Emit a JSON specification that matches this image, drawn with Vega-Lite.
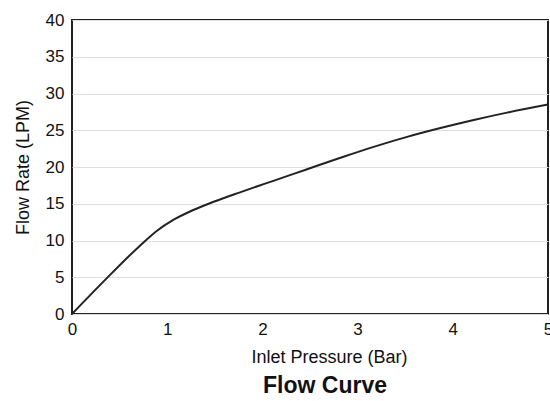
{
  "$schema": "https://vega.github.io/schema/vega-lite/v6.json",
  "autosize": "none",
  "width": 476,
  "height": 294,
  "padding": {"left": 72, "top": 20, "right": 2, "bottom": 87},
  "background": "white",
  "title": {
    "text": "Flow Curve",
    "orient": "bottom",
    "anchor": "middle",
    "font": "Liberation Sans",
    "fontSize": 23,
    "fontWeight": "bold",
    "color": "#111",
    "offset": 9,
    "dx": 15
  },
  "config": {
    "view": {"stroke": "#231f20", "strokeWidth": 2},
    "font": "Liberation Sans"
  },
  "data": {
    "values": [
      {"p": 0, "f": 0},
      {"p": 0.33, "f": 4.4},
      {"p": 0.714, "f": 9.3},
      {"p": 0.89, "f": 11.3},
      {"p": 1.064, "f": 12.8},
      {"p": 1.24, "f": 13.95},
      {"p": 1.415, "f": 14.9},
      {"p": 1.59, "f": 15.75},
      {"p": 1.765, "f": 16.55},
      {"p": 1.94, "f": 17.35},
      {"p": 2.1, "f": 18.05},
      {"p": 2.47, "f": 19.7},
      {"p": 2.82, "f": 21.25},
      {"p": 3.16, "f": 22.7},
      {"p": 3.52, "f": 24.1},
      {"p": 3.87, "f": 25.3},
      {"p": 4.22, "f": 26.4},
      {"p": 4.57, "f": 27.4},
      {"p": 5.0, "f": 28.5}
    ]
  },
  "mark": {"type": "line", "color": "#222", "strokeWidth": 2, "interpolate": "monotone"},
  "encoding": {
    "x": {
      "field": "p",
      "type": "quantitative",
      "scale": {"domain": [0, 5], "nice": false},
      "axis": {
        "title": "Inlet Pressure (Bar)",
        "values": [0, 1, 2, 3, 4, 5],
        "grid": false,
        "ticks": false,
        "domain": false,
        "labelPadding": 7,
        "labelFontSize": 17,
        "labelColor": "#111",
        "labelFlush": false,
        "labelOverlap": false,
        "titleFontSize": 18,
        "titleFontWeight": "normal",
        "titleColor": "#111",
        "titlePadding": 11,
        "titleX": 257,
        "titleAlign": "center"
      }
    },
    "y": {
      "field": "f",
      "type": "quantitative",
      "scale": {"domain": [0, 40], "nice": false},
      "axis": {
        "title": "Flow Rate (LPM)",
        "values": [0, 5, 10, 15, 20, 25, 30, 35, 40],
        "grid": true,
        "gridColor": "#dedede",
        "gridWidth": 1,
        "ticks": false,
        "domain": false,
        "labelPadding": 8,
        "labelFontSize": 17,
        "labelColor": "#111",
        "labelFlush": false,
        "labelOverlap": false,
        "titleFontSize": 18,
        "titleFontWeight": "normal",
        "titleColor": "#111",
        "titlePadding": 13
      }
    }
  }
}
